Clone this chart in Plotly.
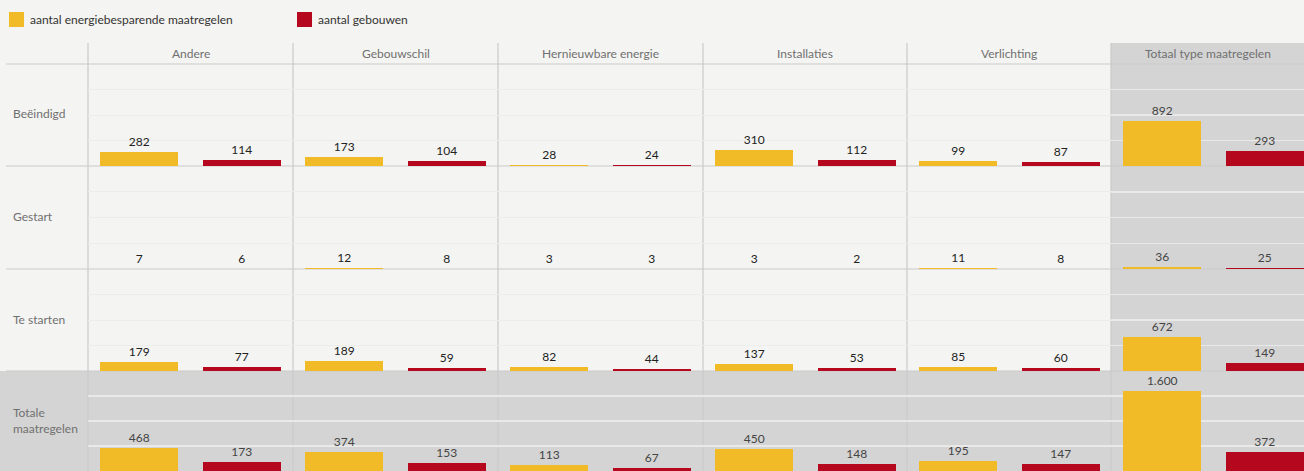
import plotly.graph_objects as go

# ---- data ----
row_labels = ["Beëindigd", "Gestart", "Te starten", "Totale<br>maatregelen"]
col_labels = ["Andere", "Gebouwschil", "Hernieuwbare energie", "Installaties",
              "Verlichting", "Totaal type maatregelen"]
series_names = ["aantal energiebesparende maatregelen", "aantal gebouwen"]

maatregelen = [
    [282, 173, 28, 310, 99, 892],
    [7, 12, 3, 3, 11, 36],
    [179, 189, 82, 137, 85, 672],
    [468, 374, 113, 450, 195, 1600],
]
gebouwen = [
    [114, 104, 24, 112, 87, 293],
    [6, 8, 3, 2, 8, 25],
    [77, 59, 44, 53, 60, 149],
    [173, 153, 67, 148, 147, 372],
]

# ---- styling ----
W, H = 1304, 471
YELLOW = "#F0BB26"
RED = "#B5081E"
BG = "#F4F4F2"
GRAY = "#D4D4D4"
LINE = "#CACACA"
FONT = "Lato"

def px(x):
    return x / W

def py(y):
    return 1 - y / H

col_edges = [88, 293, 498, 703, 907, 1111, 1304]
row_edges = [64, 166, 269, 371, 471]
unit = (col_edges[1] - col_edges[0]) / 2.0

fig = go.Figure()
layout_axes = {}

for r in range(4):
    for c in range(6):
        idx = r * 6 + c + 1
        xa = "x" if idx == 1 else f"x{idx}"
        ya = "y" if idx == 1 else f"y{idx}"
        x0, x1 = col_edges[c], col_edges[c + 1]
        y0, y1 = row_edges[r], row_edges[r + 1]
        is_total = (r == 3) or (c == 5)
        vals = [maatregelen[r][c], gebouwen[r][c]]
        fig.add_trace(go.Bar(
            x=[0, 1], y=vals, xaxis=xa, yaxis=ya,
            marker=dict(color=[YELLOW, RED], line=dict(width=0)),
            width=0.76,
            text=vals, texttemplate="%{y:,}", textposition="outside",
            textfont=dict(family=FONT, size=12, color="#444444" if is_total else "#222222"),
            cliponaxis=False, showlegend=False, hoverinfo="skip",
        ))
        xr_max = -0.5 + (x1 - x0) / unit
        layout_axes["xaxis" if idx == 1 else f"xaxis{idx}"] = dict(
            domain=[px(x0), px(x1)], anchor=ya, range=[-0.5, xr_max],
            showgrid=False, zeroline=False, showticklabels=False, ticks="",
            showline=False, fixedrange=True,
        )
        layout_axes["yaxis" if idx == 1 else f"yaxis{idx}"] = dict(
            domain=[py(y1), py(y0)], anchor=xa, range=[0, 2000], dtick=500,
            showgrid=True, gridcolor="#E9E9E9" if is_total else "#ECECEA",
            gridwidth=1.5 if is_total else 1,
            zeroline=False, showticklabels=False, ticks="", showline=False,
            fixedrange=True,
        )

shapes = [
    # grey total column and total row
    dict(type="rect", xref="paper", yref="paper", x0=px(1111), x1=1, y0=0, y1=py(43),
         fillcolor=GRAY, line=dict(width=0), layer="below"),
    dict(type="rect", xref="paper", yref="paper", x0=0, x1=1, y0=0, y1=py(371),
         fillcolor=GRAY, line=dict(width=0), layer="below"),
]
for yv in [64, 166, 269, 371]:
    shapes.append(dict(type="line", xref="paper", yref="paper", x0=px(6), x1=1,
                       y0=py(yv), y1=py(yv), line=dict(color=LINE, width=1.2), layer="below"))
for xv in col_edges[:-1]:
    shapes.append(dict(type="line", xref="paper", yref="paper", x0=px(xv), x1=px(xv),
                       y0=0, y1=py(43), line=dict(color=LINE, width=1.2), layer="below"))

# legend swatches
legend_x = [9, 297]
legend_colors = [YELLOW, RED]
annotations = []
for name, lx, col in zip(series_names, legend_x, legend_colors):
    shapes.append(dict(type="rect", xref="paper", yref="paper", x0=px(lx), x1=px(lx + 15),
                       y0=py(27), y1=py(12), fillcolor=col, line=dict(width=0)))
    annotations.append(dict(text=name, xref="paper", yref="paper", x=px(lx + 19), y=py(19.5),
                            xanchor="left", yanchor="middle", showarrow=False,
                            font=dict(family=FONT, size=12, color="#333333")))

# column headers
for c, lab in enumerate(col_labels):
    annotations.append(dict(text=lab, xref="paper", yref="paper",
                            x=px((col_edges[c] + col_edges[c + 1]) / 2), y=py(53.5),
                            xanchor="center", yanchor="middle", showarrow=False,
                            font=dict(family=FONT, size=12, color="#707070")))
# row labels
for r, lab in enumerate(row_labels):
    annotations.append(dict(text=lab, xref="paper", yref="paper", x=px(11),
                            y=py((row_edges[r] + row_edges[r + 1]) / 2 - 1),
                            xanchor="left", yanchor="middle", showarrow=False, align="left",
                            font=dict(family=FONT, size=12, color="#707070")))

fig.update_layout(
    width=W, height=H, margin=dict(l=0, r=0, t=0, b=0),
    paper_bgcolor=BG, plot_bgcolor="rgba(0,0,0,0)",
    separators=",.", bargap=0, showlegend=False,
    shapes=shapes, annotations=annotations,
    font=dict(family=FONT, size=12, color="#333333"),
    **layout_axes,
)

fig.write_html(
    "out.html",
    config={"displayModeBar": False, "staticPlot": True},
    post_script="document.body.style.margin='0';document.body.style.padding='0';"
                "document.body.style.overflow='hidden';"
                "document.body.style.background='" + BG + "';",
)
